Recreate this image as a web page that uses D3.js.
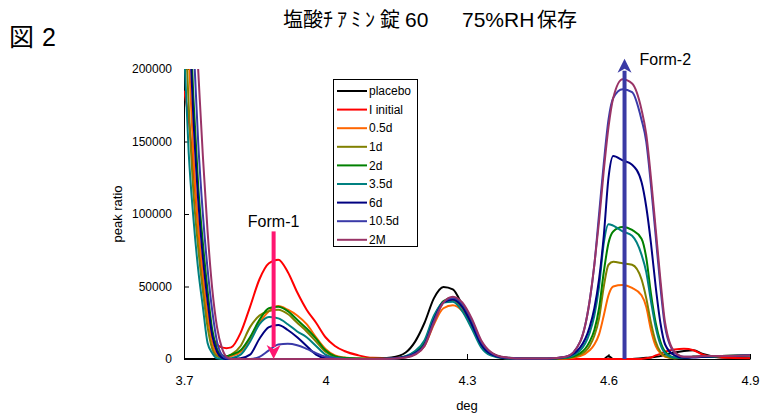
<!DOCTYPE html>
<html>
<head>
<meta charset="utf-8">
<script src="https://cdn.jsdelivr.net/npm/d3@7"></script>
<style>
  body { margin: 0; background: #fff; }
  text { font-family: "Liberation Sans", Arial, "Noto Sans CJK JP", sans-serif; }
  .jp { font-family: "Noto Sans CJK JP", "Liberation Sans", sans-serif; }
  .lat { font-family: "Liberation Sans", Arial, sans-serif; }
</style>
</head>
<body>
<svg id="chart" width="762" height="416"></svg>
<script>
// x grid (deg), shared by every series
const deg = [
  3.70, 3.71, 3.72, 3.73, 3.74, 3.75, 3.76, 3.77, 3.78, 3.79, 3.80,
  3.82, 3.84, 3.86, 3.88, 3.90, 3.92, 3.94, 3.96, 3.98, 4.00, 4.02, 4.04, 4.07, 4.10,
  4.14, 4.17, 4.19, 4.21, 4.23, 4.25, 4.27, 4.29, 4.31, 4.33, 4.35, 4.38, 4.42,
  4.47, 4.51, 4.54, 4.56, 4.57, 4.58, 4.59, 4.60, 4.61, 4.63, 4.65,
  4.67, 4.68, 4.69, 4.70, 4.71, 4.72, 4.74, 4.76, 4.78, 4.80, 4.84, 4.90
];

const seriesNames = ["placebo", "I initial", "0.5d", "1d", "2d", "3.5d", "6d", "10.5d", "2M"];
const seriesColors = ["#000000", "#ff0000", "#ff6600", "#808000", "#008000", "#008080", "#000080", "#3a3aa8", "#993366"];

const placebo = [
  0, 0, 0, 0, 0, 0, 0, 0, 0, 0, 0,
  0, 0, 0, 0, 0, 0, 0, 0, 0, 0, 0, 0, 0, 0,
  1000, 4500, 12000, 25000, 42000, 49700, 48000, 37000, 23000, 10000, 4500, 1000, 300,
  0, 0, 0, 0, 0, 0, 0, 2000, 0, 0, 0,
  500, 800, 1000, 1500, 2000, 3000, 4500, 5500, 6000, 3500, 1000, 500
];
const initial = [
  185000, 165000, 130000, 90000, 55000, 30000, 16000, 10000, 8000, 7500, 8000,
  18000, 36000, 55000, 66000, 68500, 60000, 46000, 34000, 25000, 15000, 9000, 5500, 2500, 800,
  500, 1500, 4500, 11000, 28000, 39000, 41500, 36000, 24000, 10000, 3500, 800, 300,
  100, 0, 0, 0, 0, 0, 0, 0, 0, 0, 0,
  0, 500, 1000, 2500, 3500, 5000, 6500, 7000, 6000, 3000, 1000, 500
];
const d05 = [
  300000, 210000, 140000, 92000, 58000, 30000, 11000, 3000, 1000, 1000, 2000,
  5000, 14000, 25000, 33000, 36500, 34000, 30000, 24000, 15000, 7000, 2500, 1000, 300, 100,
  300, 1200, 3500, 9000, 24000, 35000, 37000, 33000, 23000, 10000, 3500, 800, 200,
  200, 300, 2000, 6000, 10000, 17000, 30000, 44000, 50000, 51000, 49000,
  44000, 36000, 20000, 9000, 4000, 1500, 500, 800, 1500, 1500, 2000, 2500
];
const d1 = [
  250000, 175000, 115000, 77000, 47000, 22000, 7000, 2000, 1000, 1500, 3000,
  9000, 22000, 30000, 33000, 34000, 31000, 25000, 19000, 12000, 5000, 1500, 500, 200, 100,
  400, 1800, 5000, 12000, 29000, 39000, 40500, 35000, 23000, 9000, 3000, 600, 200,
  200, 500, 3000, 9000, 16000, 28000, 50000, 65000, 67000, 66000, 65000,
  55000, 42000, 25000, 12000, 5000, 2000, 500, 800, 1500, 1500, 2000, 2500
];
const d2 = [
  340000, 255000, 180000, 120000, 80000, 47000, 20000, 7000, 2500, 2000, 3000,
  6000, 15000, 27000, 35000, 36000, 33000, 27000, 21000, 14000, 6000, 2000, 800, 300, 100,
  300, 1500, 4500, 11000, 28000, 40000, 42000, 37000, 25000, 11000, 4000, 900, 200,
  200, 800, 4000, 12000, 20000, 35000, 60000, 80000, 88000, 91000, 89000,
  83000, 70000, 45000, 25000, 12000, 5000, 1000, 800, 1500, 1500, 2000, 2500
];
const d35 = [
  215000, 142000, 97000, 62000, 36000, 11000, 4000, 500, 0, 0, 500,
  3000, 12000, 24000, 29000, 28000, 24000, 19000, 15000, 9000, 3000, 800, 200, 100, 0,
  400, 2000, 5500, 13000, 30000, 39000, 39500, 33000, 21000, 8000, 2500, 500, 100,
  200, 1000, 6000, 18000, 30000, 50000, 80000, 93000, 92000, 88000, 85000,
  72000, 60000, 40000, 22000, 10000, 4000, 1000, 800, 1500, 1500, 2000, 2500
];
const d6 = [
  330000, 240000, 165000, 110000, 70000, 40000, 16000, 5000, 1000, 0, 0,
  500, 3000, 14000, 22000, 23500, 20000, 15000, 9000, 3000, 500, 0, 0, 0, 0,
  300, 1500, 4000, 10000, 27000, 39000, 41000, 36000, 24000, 10000, 3500, 700, 200,
  200, 1500, 8000, 22000, 35000, 55000, 85000, 125000, 140000, 137000, 134000,
  122000, 105000, 80000, 50000, 25000, 10000, 2500, 800, 1000, 1500, 2000, 2500
];
const d105 = [
  360000, 290000, 220000, 150000, 100000, 62000, 33000, 12000, 3000, 500, 0,
  0, 0, 1500, 6000, 10000, 10500, 9500, 7000, 4000, 1500, 300, 0, 0, 0,
  200, 1200, 3500, 9500, 26000, 39000, 42000, 38000, 27000, 12000, 4500, 1000, 300,
  300, 1500, 12000, 40000, 65000, 100000, 135000, 165000, 180000, 186000, 184000,
  165000, 150000, 120000, 85000, 50000, 22000, 4500, 1500, 1500, 2000, 2000, 2500
];
const m2 = [
  380000, 320000, 260000, 200000, 140000, 88000, 48000, 22000, 8000, 1500, 0,
  0, 0, 0, 0, 0, 0, 0, 0, 0, 0, 0, 0, 0, 0,
  200, 1000, 3000, 9000, 25000, 39000, 43000, 39000, 28000, 13000, 5000, 1200, 300,
  300, 1500, 12000, 40000, 65000, 95000, 130000, 160000, 180000, 193000, 190000,
  172000, 155000, 125000, 90000, 55000, 25000, 5000, 1500, 1500, 2000, 2000, 2500
];
const seriesValues = [placebo, initial, d05, d1, d2, d35, d6, d105, m2];

const xTicks = [3.7, 4.0, 4.3, 4.6, 4.9];
const yTicks = [0, 50000, 100000, 150000, 200000];

// arrows: [deg, from value, to value]
const form1 = { label: "Form-1", deg: 3.89, from: 88000, to: 0 };
const form2 = { label: "Form-2", deg: 4.634, from: 0, to: 207000 };

const svg = d3.select("#chart");
const plotL = 184, plotR = 750, plotT = 69, plotB = 359;

const x = d3.scaleLinear().domain([3.7, 4.9]).range([plotL, plotR]);
const y = d3.scaleLinear().domain([0, 200000]).range([plotB, plotT]);

// titles
const fig = svg.append("text").attr("y", 46).style("font-size", "25px");
fig.append("tspan").attr("class", "jp").attr("x", 9).text("図");
fig.append("tspan").attr("class", "lat").attr("x", 42).text("2");

const title = svg.append("text").attr("y", 27).style("font-size", "20px");
title.append("tspan").attr("class", "jp").attr("x", 283).text("塩酸");
title.append("tspan").attr("class", "jp").attr("x", 323).style("letter-spacing", "4px").text("ﾁｱﾐﾝ");
title.append("tspan").attr("class", "jp").attr("x", 380).text("錠");
title.append("tspan").attr("class", "lat").attr("x", 405).style("font-size", "21px").text("60");
title.append("tspan").attr("class", "lat").attr("x", 462).style("font-size", "21px").text("75%RH");
title.append("tspan").attr("class", "jp").attr("x", 537).text("保存");

svg.append("defs").append("clipPath").attr("id", "plotClip")
  .append("rect")
  .attr("x", plotL).attr("y", plotT)
  .attr("width", plotR - plotL + 2).attr("height", plotB - plotT + 2);

// axes
const yAxis = svg.append("g")
  .attr("transform", `translate(${plotL},0)`)
  .call(d3.axisLeft(y).tickValues(yTicks).tickSizeInner(-5).tickSizeOuter(0).tickPadding(12).tickFormat(d3.format("d")));
const xAxis = svg.append("g")
  .attr("transform", `translate(0,${plotB})`)
  .call(d3.axisBottom(x).tickValues(xTicks).tickSizeInner(-5).tickSizeOuter(0).tickPadding(17).tickFormat(d => d === 4 ? "4" : d3.format(".1f")(d)));

yAxis.selectAll("text").style("font-size", "12px");
xAxis.selectAll("text").style("font-size", "13px");
[yAxis, xAxis].forEach(g => {
  g.selectAll("text").attr("fill", "#000")
    .style("font-family", '"Liberation Sans", Arial, sans-serif');
  g.selectAll("path, line").attr("stroke", "#000");
});

svg.append("text")
  .attr("x", (plotL + plotR) / 2).attr("y", 410)
  .attr("text-anchor", "middle")
  .style("font-size", "13px")
  .text("deg");
svg.append("text")
  .attr("transform", `translate(122,${(plotT + plotB) / 2}) rotate(-90)`)
  .attr("text-anchor", "middle")
  .style("font-size", "13px")
  .text("peak ratio");

// series lines
const line = d3.line()
  .x((d, i) => x(deg[i]))
  .y(d => y(d))
  .curve(d3.curveMonotoneX);

svg.append("g").attr("clip-path", "url(#plotClip)")
  .selectAll("path.series")
  .data(seriesValues)
  .join("path")
  .attr("class", "series")
  .attr("fill", "none")
  .attr("stroke", (d, i) => seriesColors[i])
  .attr("stroke-width", 2)
  .attr("stroke-linejoin", "round")
  .attr("d", line);

// arrows
function arrow(a, color) {
  const ax = x(a.deg), y0 = y(a.from), y1 = y(a.to);
  const dir = y1 > y0 ? 1 : -1;
  const head = 14, half = 7;
  svg.append("line")
    .attr("x1", ax).attr("x2", ax)
    .attr("y1", y0).attr("y2", y1 - dir * head + dir * 2)
    .attr("stroke", color).attr("stroke-width", 4);
  svg.append("path")
    .attr("d", `M${ax - half},${y1 - dir * head}L${ax},${y1}L${ax + half},${y1 - dir * head}L${ax},${y1 - dir * (head - 4)}Z`)
    .attr("fill", color);
}
arrow(form1, "#ff1670");
arrow(form2, "#3a3aa5");

svg.append("text")
  .attr("x", x(form1.deg)).attr("y", y(form1.from) - 4)
  .attr("text-anchor", "middle")
  .style("font-size", "16px")
  .text(form1.label);
svg.append("text")
  .attr("x", x(form2.deg) + 15).attr("y", 65)
  .style("font-size", "16px")
  .text(form2.label);

// legend
const legend = svg.append("g").attr("transform", "translate(333,79)");
legend.append("rect")
  .attr("x", 0.5).attr("y", 0.5).attr("width", 84).attr("height", 167)
  .attr("fill", "#fff").attr("stroke", "#000");
const rows = legend.selectAll("g.row")
  .data(seriesNames)
  .join("g")
  .attr("class", "row")
  .attr("transform", (d, i) => `translate(0,${12 + i * 18.6})`);
rows.append("line")
  .attr("x1", 4).attr("x2", 34)
  .attr("stroke", (d, i) => seriesColors[i]).attr("stroke-width", 2);
rows.append("text")
  .attr("x", 36).attr("dy", "0.35em")
  .style("font-size", "12px")
  .text(d => d);
</script>
</body>
</html>
